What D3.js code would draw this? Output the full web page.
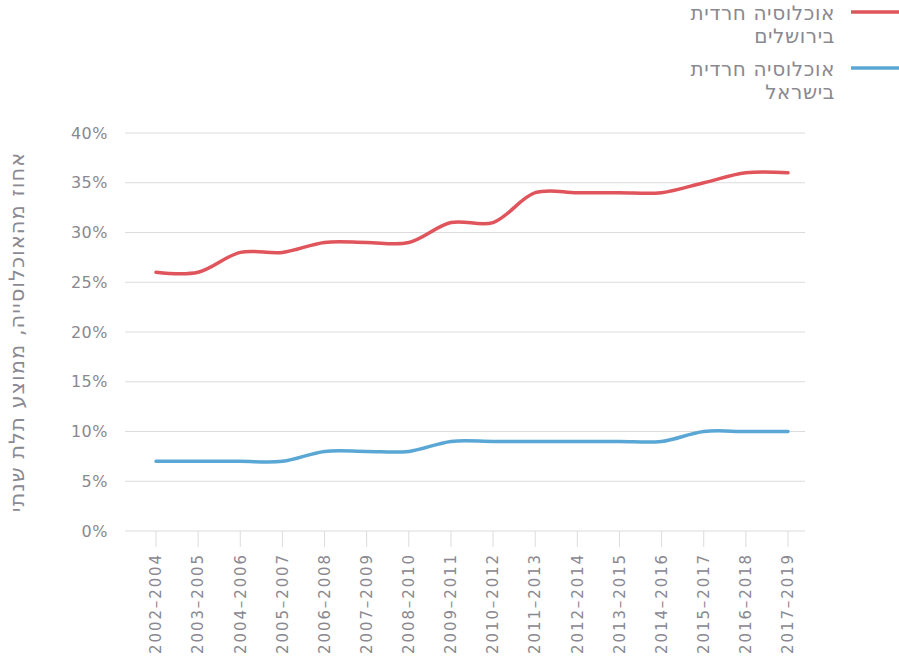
<!DOCTYPE html>
<html lang="he">
<head>
<meta charset="utf-8">
<script src="https://d3js.org/d3.v7.min.js"></script>
<style>
  body { margin: 0; background: #fff; }
  text { font-family: "DejaVu Sans", "Open Sans", sans-serif; fill: #8a8890; }
</style>
</head>
<body>
<svg width="899" height="661"></svg>
<script>
const periods = ["2002-2004","2003-2005","2004-2006","2005-2007","2006-2008","2007-2009","2008-2010","2009-2011",
  "2010-2012","2011-2013","2012-2014","2013-2015","2014-2016","2015-2017","2016-2018","2017-2019"];
const jerusalem = [26, 26, 28, 28, 29, 29, 29, 31, 31, 34, 34, 34, 34, 35, 36, 36];
const israel = [7, 7, 7, 7, 8, 8, 8, 9, 9, 9, 9, 9, 9, 10, 10, 10];
const yTicks = [0, 5, 10, 15, 20, 25, 30, 35, 40];

const series = [
  {name: ["אוכלוסיה חרדית", "בירושלים"], values: jerusalem, color: "#e0545c"},
  {name: ["אוכלוסיה חרדית", "בישראל"], values: israel, color: "#5aa7d5"}
];

const svg = d3.select("svg");
const plotL = 125, plotR = 805, plotT = 133, plotB = 531;

const x = d3.scalePoint().domain(periods).range([156, 788]);
const y = d3.scaleLinear().domain([0, 40]).range([plotB, plotT]);

// grid + y labels
const yg = svg.append("g");
yg.selectAll("line").data(yTicks).join("line")
  .attr("x1", plotL).attr("x2", plotR)
  .attr("y1", d => y(d)).attr("y2", d => y(d))
  .attr("stroke", "#dcdcdc").attr("stroke-width", 1);
yg.selectAll("text").data(yTicks).join("text")
  .attr("x", 108).attr("y", d => y(d)).attr("dy", "0.35em")
  .attr("text-anchor", "end").attr("font-size", 16).attr("letter-spacing", 0.5)
  .text(d => d + "%");

// x ticks
const xg = svg.append("g");
xg.selectAll("line").data(periods).join("line")
  .attr("x1", d => x(d)).attr("x2", d => x(d))
  .attr("y1", plotB).attr("y2", plotB + 16)
  .attr("stroke", "#dcdcdc");
xg.selectAll("text").data(periods).join("text")
  .attr("transform", d => `translate(${x(d)},${plotB + 22}) rotate(-90)`)
  .attr("dy", "0.35em").attr("text-anchor", "end").attr("font-size", 15)
  .attr("letter-spacing", 1.9)
  .text(d => d.replace("-", "–"));

// y title
svg.append("text")
  .attr("transform", `translate(17,${(plotT + plotB) / 2}) rotate(-90)`)
  .attr("text-anchor", "middle").attr("dy", "0.35em").attr("font-size", 21)
  .attr("letter-spacing", 1)
  .text("אחוז מהאוכלוסייה, ממוצע תלת שנתי");

// lines
const line = d3.line()
  .x((d, i) => x(periods[i]))
  .y(d => y(d))
  .curve(d3.curveCatmullRom);
svg.selectAll("path.series").data(series).join("path")
  .attr("class", "series")
  .attr("d", d => line(d.values))
  .attr("fill", "none").attr("stroke", d => d.color)
  .attr("stroke-width", 3.5).attr("stroke-linecap", "round");

// legend
const lg = svg.append("g");
series.forEach((s, i) => {
  const ly = 12 + i * 56;
  lg.append("line").attr("x1", 851).attr("x2", 899)
    .attr("y1", ly).attr("y2", ly)
    .attr("stroke", s.color).attr("stroke-width", 3.5);
  s.name.forEach((t, j) => {
    lg.append("text").attr("x", 835).attr("y", ly + 8 + j * 23)
      .attr("font-size", 20).attr("text-anchor", "end").attr("letter-spacing", 0.6)
      .text(t);
  });
});
</script>
</body>
</html>
